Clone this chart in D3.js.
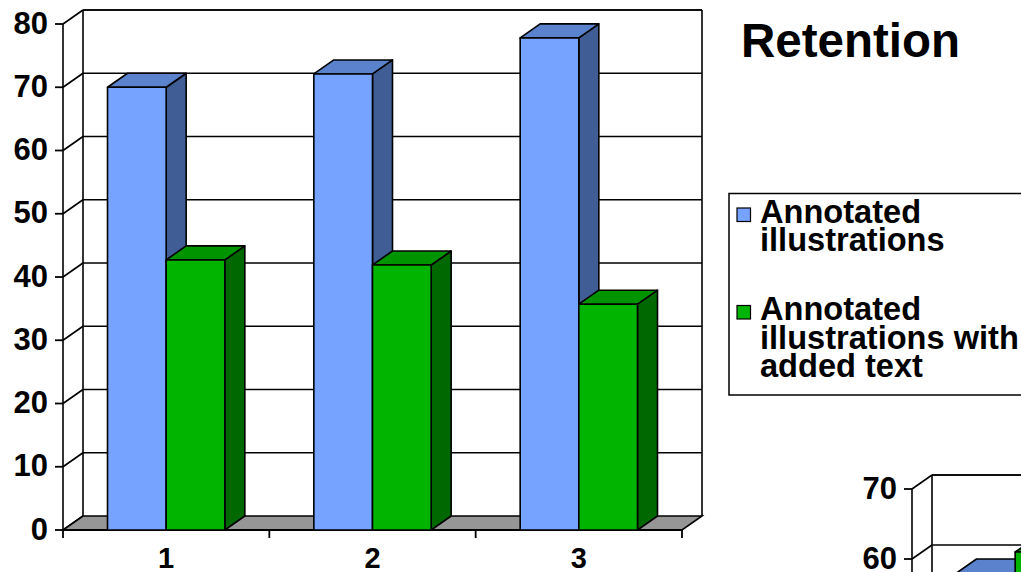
<!DOCTYPE html>
<html>
<head>
<meta charset="utf-8">
<script src="https://cdn.jsdelivr.net/npm/d3@7"></script>
<style>
  html, body { margin: 0; padding: 0; background: #fff; }
  svg { display: block; }
  text { font-family: "Liberation Sans", Arial, Helvetica, sans-serif; font-weight: bold; fill: #000; }
</style>
</head>
<body>
<svg id="chart" width="1021" height="572"></svg>
<script>
// Retention scores per group
const categories = ["1", "2", "3"];
const seriesNames = ["Annotated illustrations", "Annotated illustrations with added text"];
const illustrations = [70, 72.1, 77.8];
const illustrationsWithText = [42.7, 41.9, 35.7];
const yTicks = [0, 10, 20, 30, 40, 50, 60, 70, 80];
const legendLines = [["Annotated", "illustrations"], ["Annotated", "illustrations with", "added text"]];

// Second panel (partly outside the frame)
const categories2 = ["1", "2"];
const panel2Illustrations = [58, 56];
const panel2WithText = [61, 60];
const yTicks2 = [0, 10, 20, 30, 40, 50, 60, 70];

const svg = d3.select("#chart");
const DX = 20, DY = -14;   // depth offset of the 3D projection

const faces = [
  { front: "#76a3ff", top: "#5b82cc", side: "#405d95" },
  { front: "#00b400", top: "#009400", side: "#006800" }
];

function drawPanel(g, opts) {
  const { x, y, ticks, cats, series, right, floor } = opts;
  const [x0, x1] = x.range();
  const yMax = y(d3.max(ticks)), yMin = y(0);
  const wallRight = right !== undefined ? right : x1 + DX;

  // back wall and left wall lines
  const walls = g.append("g").attr("stroke", "#000").attr("stroke-width", 1.6).attr("fill", "none");
  walls.append("line").attr("x1", x0 + DX).attr("x2", x0 + DX).attr("y1", yMax + DY).attr("y2", yMin + DY);
  walls.append("line").attr("x1", x0).attr("x2", x0).attr("y1", yMax).attr("y2", yMin);
  walls.append("line").attr("x1", x0 + DX).attr("x2", wallRight).attr("y1", yMax + DY).attr("y2", yMax + DY);
  if (right === undefined) {
    walls.append("line").attr("x1", x1 + DX).attr("x2", x1 + DX).attr("y1", yMax + DY).attr("y2", yMin + DY);
  }
  walls.selectAll("line.grid").data(ticks.filter(t => t > 0)).join("line")
    .attr("class", "grid")
    .attr("x1", x0 + DX).attr("x2", wallRight)
    .attr("y1", d => y(d) + DY).attr("y2", d => y(d) + DY);
  walls.selectAll("line.diag").data(ticks).join("line")
    .attr("class", "diag")
    .attr("x1", x0).attr("x2", x0 + DX)
    .attr("y1", d => y(d)).attr("y2", d => y(d) + DY);

  // y ticks and labels
  g.selectAll("line.ytick").data(ticks).join("line")
    .attr("class", "ytick")
    .attr("x1", x0 - 8).attr("x2", x0)
    .attr("y1", d => y(d)).attr("y2", d => y(d))
    .attr("stroke", "#000").attr("stroke-width", 1.8);
  g.selectAll("text.ylab").data(ticks).join("text")
    .attr("class", "ylab")
    .attr("x", x0 - 15).attr("y", d => y(d) - 1)
    .attr("text-anchor", "end").attr("dominant-baseline", "central")
    .attr("font-size", 31)
    .text(d => d);

  if (floor) {
    g.append("path")
      .attr("d", d3.line()([[x0, yMin], [x1, yMin], [x1 + DX, yMin + DY], [x0 + DX, yMin + DY]]) + "Z")
      .attr("fill", "#969696").attr("stroke", "#000").attr("stroke-width", 1.6);
    g.append("line").attr("x1", x0).attr("x2", x1).attr("y1", yMin).attr("y2", yMin)
      .attr("stroke", "#000").attr("stroke-width", 2.2);
    const bounds = cats.map(c => x(c)).concat([x1]);
    g.selectAll("line.xtick").data(bounds).join("line")
      .attr("class", "xtick")
      .attr("x1", d => d).attr("x2", d => d).attr("y1", yMin).attr("y2", yMin + 8)
      .attr("stroke", "#000").attr("stroke-width", 1.8);
    g.selectAll("text.xlab").data(cats).join("text")
      .attr("class", "xlab")
      .attr("x", d => x(d) + x.bandwidth() / 2).attr("y", yMin + 38)
      .attr("text-anchor", "middle").attr("font-size", 29)
      .text(d => d);
  }

  // bars
  const inner = d3.scaleBand().domain(d3.range(series.length))
    .range([x.bandwidth() * 0.2157, x.bandwidth() * (1 - 0.2157)]);
  const w = inner.bandwidth();
  cats.forEach((c, i) => {
    series.forEach((vals, s) => {
      const bx = x(c) + inner(s), top = y(vals[i]), base = y(0);
      const bar = g.append("g").attr("stroke", "#000").attr("stroke-width", 1.6).attr("stroke-linejoin", "round");
      bar.append("path")
        .attr("d", d3.line()([[bx + w, top], [bx + w + DX, top + DY], [bx + w + DX, base + DY], [bx + w, base]]) + "Z")
        .attr("fill", faces[s].side);
      bar.append("path")
        .attr("d", d3.line()([[bx, top], [bx + DX, top + DY], [bx + w + DX, top + DY], [bx + w, top]]) + "Z")
        .attr("fill", faces[s].top);
      bar.append("rect")
        .attr("x", bx).attr("y", top).attr("width", w).attr("height", base - top)
        .attr("fill", faces[s].front);
    });
  });
}

// main panel
const x = d3.scaleBand().domain(categories).range([63, 682]);
const y = d3.scaleLinear().domain([0, 80]).range([530, 24]);
drawPanel(svg.append("g"), {
  x, y, ticks: yTicks, cats: categories,
  series: [illustrations, illustrationsWithText], floor: true
});

// title
svg.append("text").attr("x", 741).attr("y", 57).attr("font-size", 47.5).text("Retention");

// legend
const legend = svg.append("g");
legend.append("rect").attr("x", 729).attr("y", 193.5).attr("width", 400).attr("height", 201.5)
  .attr("fill", "#fff").attr("stroke", "#000").attr("stroke-width", 1.5);
const legendTop = [222.5, 320];
legendLines.forEach((lines, s) => {
  legend.append("rect").attr("x", 737).attr("y", legendTop[s] - 14.5).attr("width", 13.5).attr("height", 13.5)
    .attr("fill", faces[s].front).attr("stroke", "#000").attr("stroke-width", 1.2);
  lines.forEach((line, k) => {
    legend.append("text").attr("font-size", 32.6)
      .attr("x", 760).attr("y", legendTop[s] + k * 28.6)
      .text(line);
  });
});

// second panel, cut by the frame
const x2 = d3.scaleBand().domain(categories2).range([912, 912 + 2 * 206.3]);
const y2 = d3.scaleLinear().domain([0, 70]).range([979, 489]);
drawPanel(svg.append("g"), {
  x: x2, y: y2, ticks: yTicks2, cats: categories2,
  series: [panel2Illustrations, panel2WithText], floor: false, right: 1040
});
</script>
</body>
</html>
